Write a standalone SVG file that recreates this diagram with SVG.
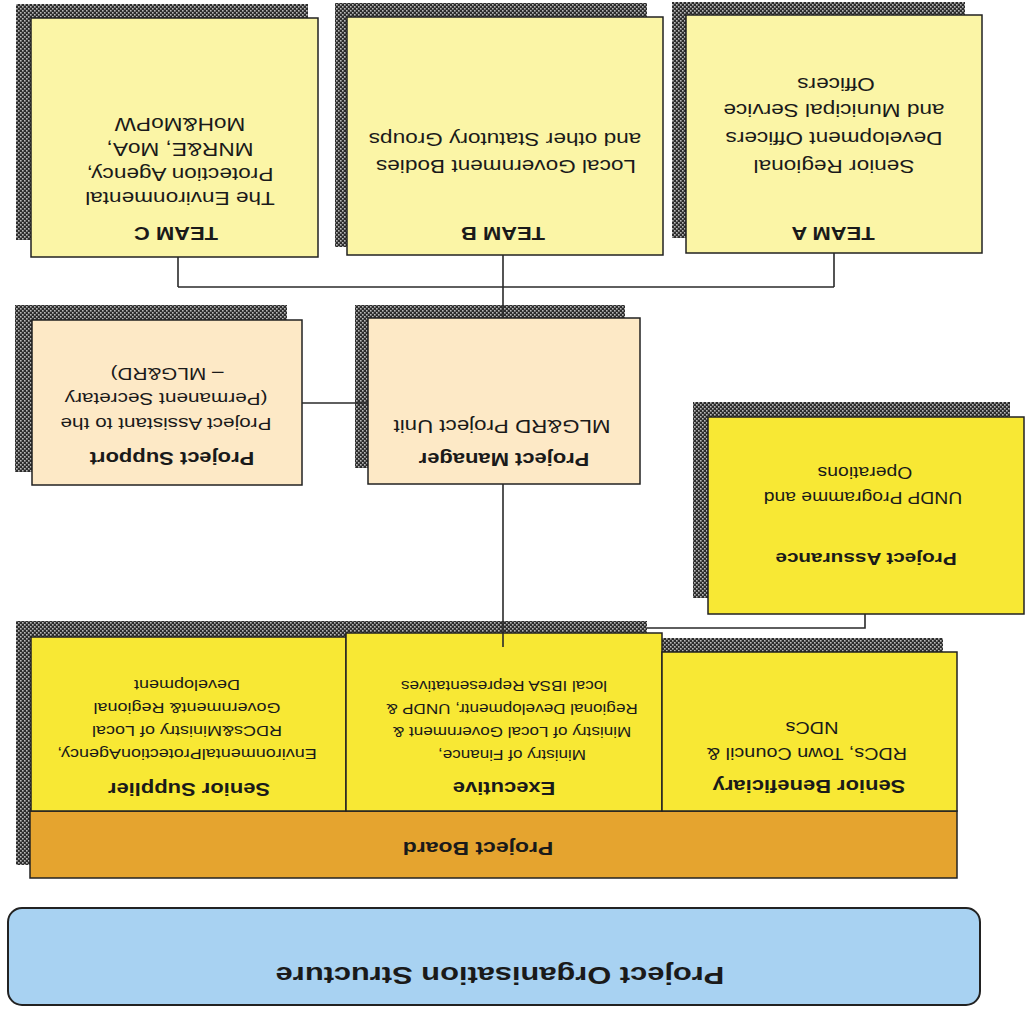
<svg xmlns="http://www.w3.org/2000/svg" width="1026" height="1013" viewBox="0 0 1026 1013">
<style>
.box{stroke:#222;stroke-width:1.5}
.team{fill:#fbf5a6}
.peach{fill:#fde9c6}
.yel{fill:#f8e834}
.board{fill:#e5a42f}
.title{fill:#a8d2f2;stroke:#222;stroke-width:2}
.sh{fill:url(#hatch)}
.conn line,.conn polyline{stroke:#2a2a2a;stroke-width:1.6;fill:none}
text{font-family:"Liberation Sans",Arial,sans-serif;fill:#1a1a1a;text-anchor:middle}
.b{font-weight:bold}
</style>
<defs>
<pattern id="hatch" width="4" height="4" patternUnits="userSpaceOnUse">
<rect width="4" height="4" fill="#2c2c2c"/>
<rect x="0" y="0" width="1.6" height="1.6" fill="#b8b8b8"/>
<rect x="2" y="2" width="1.6" height="1.6" fill="#b8b8b8"/>
</pattern>
</defs>
<rect width="1026" height="1013" fill="#ffffff"/>

<g id="title">
<rect class="title" x="8" y="908" width="972" height="97" rx="14"/>
<text class="b" font-size="23" transform="translate(500 967) rotate(180) scale(1.34 1)">Project Organisation Structure</text>
</g>

<g id="shadow-bottom"><rect class="sh" x="16" y="621" width="631" height="244"/><rect class="sh" x="662" y="638" width="281" height="20"/></g>

<g id="project-board">
<rect class="box board" x="30" y="811" width="927" height="67"/>
<text class="b" font-size="19" transform="translate(478 842) rotate(180) scale(1.21 1)">Project Board</text>
</g>

<g id="senior-supplier">
<rect class="box yel" x="31" y="637" width="315" height="174"/>
<text class="b" font-size="18" transform="translate(189 783) rotate(180) scale(1.22 1)">Senior Supplier</text>
<text font-size="14.5" transform="translate(187 749) rotate(180) scale(1.24 1)">EnvironmentalProtectionAgency,</text>
<text font-size="14.5" transform="translate(187 726) rotate(180) scale(1.24 1)">RDCs&amp;Ministry of Local</text>
<text font-size="14.5" transform="translate(187 703) rotate(180) scale(1.24 1)">Government&amp; Regional</text>
<text font-size="14.5" transform="translate(187 680) rotate(180) scale(1.24 1)">Development</text>
</g>

<g id="executive">
<rect class="box yel" x="346" y="633" width="316" height="178"/>
<text class="b" font-size="18" transform="translate(504 782) rotate(180) scale(1.22 1)">Executive</text>
<text font-size="14.5" transform="translate(512 750) rotate(180) scale(1.18 1)">Ministry of Finance,</text>
<text font-size="14.5" transform="translate(512 727) rotate(180) scale(1.18 1)">Ministry of Local Government &amp;</text>
<text font-size="14.5" transform="translate(512 704) rotate(180) scale(1.18 1)">Regional Developmentr, UNDP &amp;</text>
<text font-size="14.5" transform="translate(504 681) rotate(180) scale(1.18 1)">local IBSA Representatives</text>
</g>

<g id="senior-beneficiary">
<rect class="box yel" x="662" y="652" width="295" height="159"/>
<text class="b" font-size="18" transform="translate(809 780) rotate(180) scale(1.22 1)">Senior Beneficiary</text>
<text font-size="16" transform="translate(807 748) rotate(180) scale(1.24 1)">RDCs, Town Council &amp;</text>
<text font-size="16" transform="translate(812 722) rotate(180) scale(1.24 1)">NDCs</text>
</g>

<g id="project-assurance">
<rect class="sh" x="693" y="402" width="317" height="196"/>
<rect class="box yel" x="708" y="417" width="316" height="197"/>
<text class="b" font-size="17" transform="translate(866 553) rotate(180) scale(1.22 1)">Project Assurance</text>
<text font-size="16" transform="translate(863 492) rotate(180) scale(1.21 1)">UNDP Programme and</text>
<text font-size="16" transform="translate(865 467) rotate(180) scale(1.21 1)">Operations</text>
</g>

<g id="project-support">
<rect class="sh" x="15" y="305" width="272" height="167"/>
<rect class="box peach" x="32" y="320" width="270" height="165"/>
<text class="b" font-size="18" transform="translate(172 452) rotate(180) scale(1.22 1)">Project Support</text>
<text font-size="17" transform="translate(166 418) rotate(180) scale(1.22 1)">Project Assistant to the</text>
<text font-size="17" transform="translate(166 393) rotate(180) scale(1.22 1)">(Permanent Secretary</text>
<text font-size="17" transform="translate(167 368) rotate(180) scale(1.22 1)">– MLG&amp;RD)</text>
</g>

<g id="project-manager">
<rect class="sh" x="355" y="305" width="270" height="163"/>
<rect class="box peach" x="368" y="318" width="272" height="166"/>
<text class="b" font-size="18" transform="translate(504 453) rotate(180) scale(1.22 1)">Project Manager</text>
<text font-size="18" transform="translate(502 420) rotate(180) scale(1.24 1)">MLG&amp;RD Project Unit</text>
</g>

<g id="team-c">
<rect class="sh" x="16" y="4" width="292" height="236"/>
<rect class="box team" x="31" y="18" width="287" height="239"/>
<text class="b" font-size="18" transform="translate(176 227) rotate(180) scale(1.22 1)">TEAM C</text>
<text font-size="19" transform="translate(180 192) rotate(180) scale(1.19 1)">The Environmental</text>
<text font-size="19" transform="translate(180 168) rotate(180) scale(1.19 1)">Protection Agency,</text>
<text font-size="19" transform="translate(180 143) rotate(180) scale(1.19 1)">MNR&amp;E, MoA,</text>
<text font-size="19" transform="translate(180 118) rotate(180) scale(1.19 1)">MoH&amp;MoPW</text>
</g>

<g id="team-b">
<rect class="sh" x="335" y="3" width="312" height="244"/>
<rect class="box team" x="347" y="17" width="316" height="238"/>
<text class="b" font-size="18" transform="translate(503 227) rotate(180) scale(1.22 1)">TEAM B</text>
<text font-size="19" transform="translate(506 160) rotate(180) scale(1.19 1)">Local Government Bodies</text>
<text font-size="19" transform="translate(505 133) rotate(180) scale(1.19 1)">and other Statutory Groups</text>
</g>

<g id="team-a">
<rect class="sh" x="672" y="2" width="293" height="236"/>
<rect class="box team" x="686" y="15" width="296" height="238"/>
<text class="b" font-size="18" transform="translate(833 227) rotate(180) scale(1.22 1)">TEAM A</text>
<text font-size="19" transform="translate(834 160) rotate(180) scale(1.19 1)">Senior Regional</text>
<text font-size="19" transform="translate(834 132) rotate(180) scale(1.19 1)">Development Officers</text>
<text font-size="19" transform="translate(834 104) rotate(180) scale(1.19 1)">and Municipal Service</text>
<text font-size="19" transform="translate(836 78) rotate(180) scale(1.19 1)">Officers</text>
</g>

<g id="connectors" class="conn">
<line x1="178" y1="287" x2="834" y2="287"/>
<line x1="178" y1="257" x2="178" y2="287"/>
<line x1="503" y1="255" x2="503" y2="318"/>
<line x1="834" y1="253" x2="834" y2="287"/>
<line x1="302" y1="403" x2="368" y2="403"/>
<line x1="503" y1="484" x2="503" y2="647"/>
<polyline points="865,614 865,628 647,628"/>
</g>
</svg>
